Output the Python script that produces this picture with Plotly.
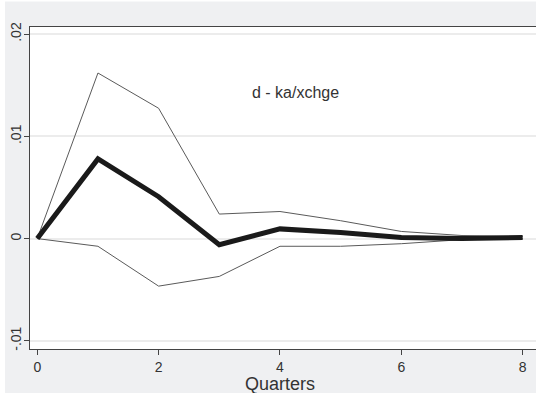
import plotly.graph_objects as go

quarters = [0, 1, 2, 3, 4, 5, 6, 7, 8]
irf = [0.0, 0.0078, 0.0041, -0.0006, 0.00095, 0.0006, 0.0001, 0.0, 0.0001]
upper = [0.0, 0.0162, 0.01275, 0.0024, 0.00265, 0.00175, 0.0007, 0.0003, 0.0002]
lower = [0.0, -0.00075, -0.00465, -0.0037, -0.00075, -0.00075, -0.0005, -0.0001, 0.0]
xticks = [0, 2, 4, 6, 8]
yticks = [-0.01, 0, 0.01, 0.02]
yticklabels = ["-.01", "0", ".01", ".02"]

fig = go.Figure()
fig.add_trace(go.Scatter(x=quarters, y=upper, mode="lines",
                         line=dict(color="#5a5a5a", width=1), showlegend=False))
fig.add_trace(go.Scatter(x=quarters, y=lower, mode="lines",
                         line=dict(color="#5a5a5a", width=1), showlegend=False))
fig.add_trace(go.Scatter(x=quarters, y=irf, mode="lines",
                         line=dict(color="#1a1a1a", width=5), showlegend=False))

fig.add_annotation(x=4.26, y=0.01434, xref="x", yref="y", text="d - ka/xchge",
                   showarrow=False, font=dict(family="Liberation Sans, Arial", size=16, color="#333333"))
fig.add_annotation(x=4, y=-0.108, xref="x", yref="paper", text="Quarters",
                   showarrow=False, yanchor="middle",
                   font=dict(family="Liberation Sans, Arial", size=18, color="#333333"))

# thin white strips at the top and left of the gray outer background
fig.add_shape(type="rect", xref="paper", yref="paper", x0=-0.1, x1=1.1, y0=1.079, y1=1.2,
              fillcolor="white", line=dict(width=0))
fig.add_shape(type="rect", xref="paper", yref="paper", x0=-0.1, x1=-0.0494, y0=-0.2, y1=1.2,
              fillcolor="white", line=dict(width=0))

fig.update_layout(
    template="none",
    width=536, height=393,
    margin=dict(l=30, r=0, t=27, b=44, autoexpand=False),
    paper_bgcolor="#eff0f2",
    plot_bgcolor="white",
    font=dict(family="Liberation Sans, Arial", size=13, color="#333333"),
    xaxis=dict(range=[-0.12, 8.22], tickvals=xticks, ticktext=[str(t) for t in xticks],
               showgrid=False, zeroline=False, showline=True, linecolor="#444444", linewidth=1.2,
               mirror=True, ticks="outside", ticklen=5, tickcolor="#444444", automargin=False,
               tickfont=dict(size=14)),
    yaxis=dict(range=[-0.0108, 0.0207], tickvals=yticks, ticktext=yticklabels, tickangle=-90,
               showgrid=True, gridcolor="#ececec", gridwidth=1.5, zeroline=False,
               showline=True, linecolor="#444444", linewidth=1.2, mirror=False,
               ticks="outside", ticklen=5, tickcolor="#444444", automargin=False,
               ticklabelstandoff=-3, tickfont=dict(size=14)),
)

fig.write_html("out.html")
